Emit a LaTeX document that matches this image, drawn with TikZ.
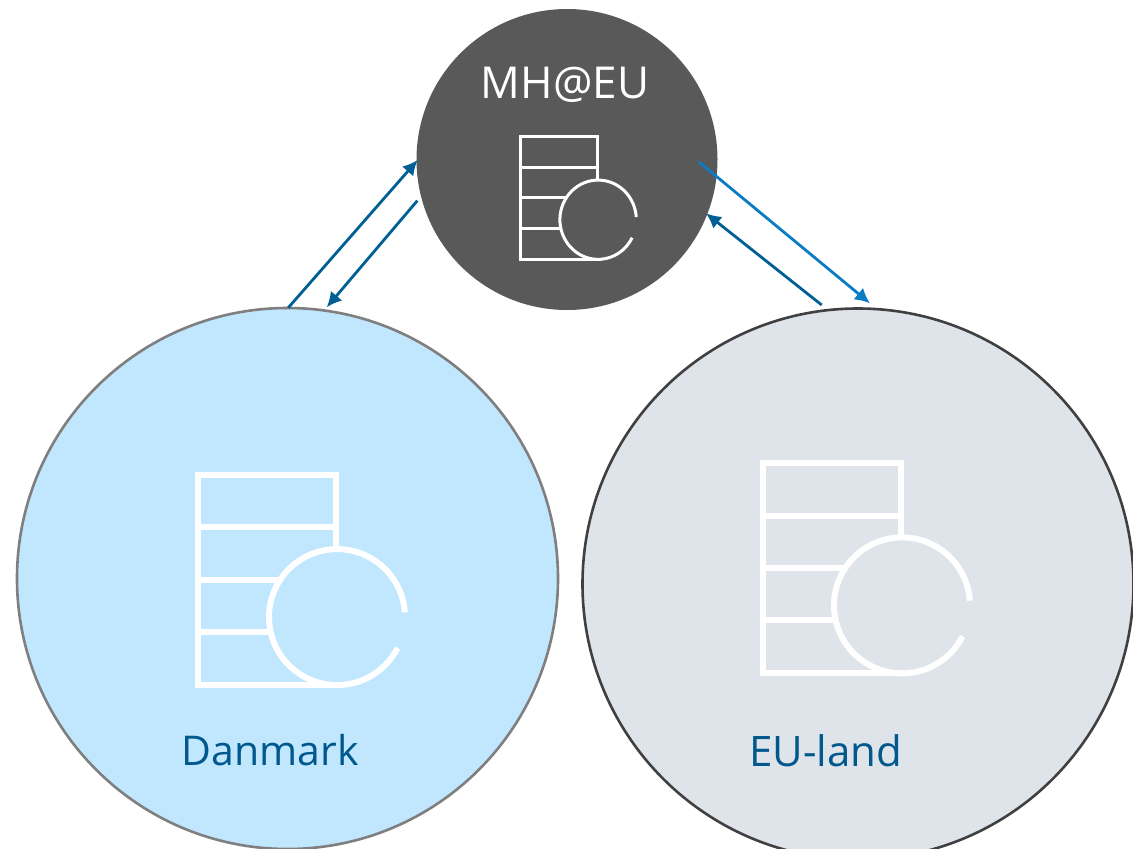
\documentclass[tikz,border=0pt]{standalone}
\usepackage{fontspec}
\setmainfont{Open Sans}
\usetikzlibrary{arrows.meta}
\definecolor{mhfill}{HTML}{595959}
\definecolor{dkfill}{HTML}{C1E7FF}
\definecolor{dkline}{HTML}{7F7F7F}
\definecolor{eufill}{HTML}{DEE4EA}
\definecolor{euline}{HTML}{404040}
\definecolor{labelblue}{HTML}{00588C}
\definecolor{darkarrow}{HTML}{005F94}
\definecolor{lightarrow}{HTML}{0A7CC4}
\tikzset{
  ball/.style={circle,inner sep=0pt,outer sep=0pt,minimum size=#1},
  lab/.style={inner sep=0pt,outer sep=0pt,anchor=base,font=\fontsize{#1}{#1}\selectfont},
  link/.style={line width=2.8pt,-{Latex[length=15pt,width=15pt]},color=#1},
  link/.default=darkarrow
}
\newcommand{\dbglyph}[5]{%
  \begin{scope}[shift={(#1,#2)},xscale=#3,yscale=#4,white,line width=#5]
    \draw[miter limit=10] (137.7,73) -- (137.7,0) -- (0,0) -- (0,210.4) -- (139,210.4);
    \draw (0,52.5) -- (137.7,52.5);
    \draw (0,104.8) -- (82,104.8);
    \draw (0,157.3) -- (72.4,157.3);
    \draw (139,142.4) ++(4:68pt) arc[start angle=4,end angle=333,radius=68pt];
  \end{scope}}
\begin{document}
\begin{tikzpicture}[x=1pt,y=-1pt]
\useasboundingbox (0,0) rectangle (1133,849);
\fill[white] (0,0) rectangle (1133,849);
\begin{scope}
\clip (0,0) rectangle (1133,849);
\node[ball=301pt,fill=mhfill] (mh) at (567,159.5) {};
\node[ball=541pt,fill=dkfill,draw=dkline,line width=2.6pt] (dk) at (287.5,578.5) {};
\node[ball=551pt,fill=eufill,draw=euline,line width=2.6pt] (eu) at (858,584) {};
\end{scope}
\dbglyph{520}{136.7}{0.562}{0.583}{3pt}
\dbglyph{198}{474.7}{1}{1}{6pt}
\dbglyph{763}{463}{1}{1}{6pt}
\node[lab=44,text=white] (mhlabel) at (565,98) {MH@EU};
\node[lab=41,text=labelblue] (dklabel) at (270.5,765) {Danmark};
\node[lab=42,text=labelblue] (eulabel) at (826,766) {EU-land};
\coordinate (a1s) at (288.3,307.7);
\coordinate (a1e) at (417.7,160);
\coordinate (a2s) at (417.3,200.7);
\coordinate (a2e) at (326.7,307.3);
\coordinate (a3s) at (699,162);
\coordinate (a3e) at (870,303.3);
\coordinate (a4s) at (821.7,305);
\coordinate (a4e) at (706,213.3);
\draw[link] (a1s) -- (a1e);
\draw[link] (a2s) -- (a2e);
\draw[link=lightarrow] (a3s) -- (a3e);
\draw[link] (a4s) -- (a4e);
\end{tikzpicture}
\end{document}
